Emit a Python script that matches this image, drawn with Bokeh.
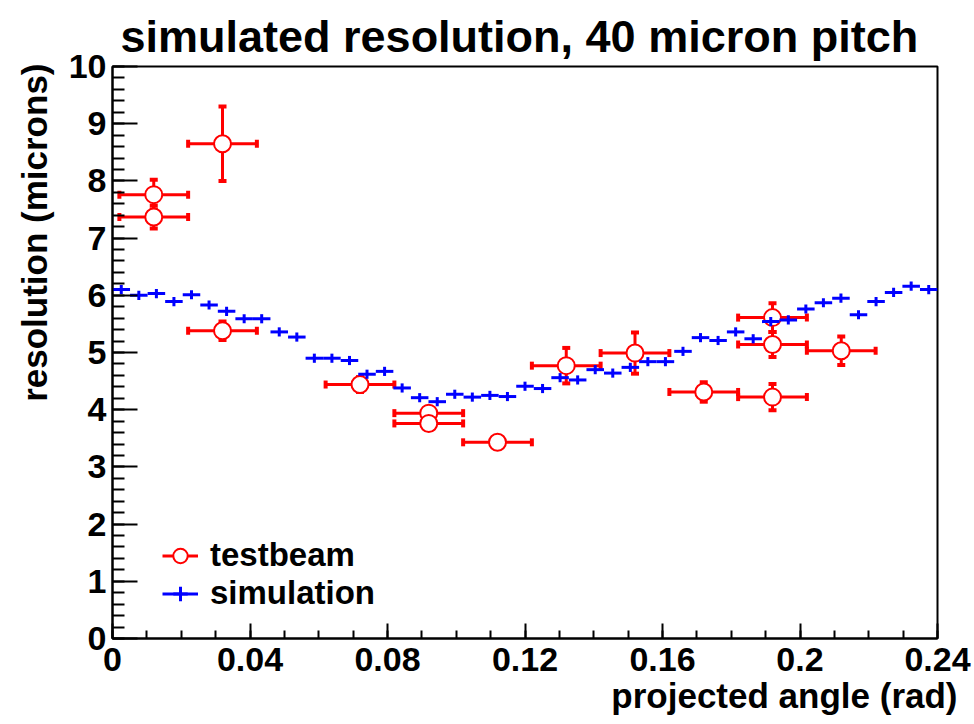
import numpy as np
from math import pi
from bokeh.plotting import figure
from bokeh.models import (Range1d, FixedTicker, CustomJSTickFormatter, Whisker, TeeHead,
                          ColumnDataSource, Legend, LegendItem, Title)
from bokeh.embed import file_html
from bokeh.resources import INLINE

# ---------------- data ----------------
sim_x = [0.00255, 0.00766, 0.01277, 0.01787, 0.02298, 0.02809, 0.03319, 0.03830,
         0.04340, 0.04851, 0.05362, 0.05872, 0.06383, 0.06894, 0.07404, 0.07915,
         0.08426, 0.08936, 0.09447, 0.09957, 0.10468, 0.10979, 0.11489, 0.12000,
         0.12511, 0.13021, 0.13532, 0.14043, 0.14553, 0.15064, 0.15574, 0.16085,
         0.16596, 0.17106, 0.17617, 0.18128, 0.18638, 0.19149, 0.19660, 0.20170,
         0.20681, 0.21191, 0.21702, 0.22213, 0.22723, 0.23234, 0.23745]
sim_y = [6.10, 6.00, 6.03, 5.89, 6.01, 5.83, 5.72, 5.59, 5.59, 5.36,
         5.27, 4.90, 4.90, 4.86, 4.62, 4.67, 4.38, 4.21, 4.14, 4.27,
         4.22, 4.25, 4.23, 4.41, 4.37, 4.56, 4.52, 4.70, 4.64, 4.74,
         4.84, 4.84, 5.02, 5.26, 5.21, 5.36, 5.24, 5.54, 5.57, 5.76,
         5.87, 5.95, 5.66, 5.89, 6.05, 6.16, 6.10]
sim_yerr = [0.08, 0.08, 0.08, 0.08, 0.08, 0.08, 0.08, 0.08, 0.08, 0.08,
            0.08, 0.08, 0.08, 0.08, 0.08, 0.08, 0.08, 0.08, 0.08, 0.08,
            0.08, 0.08, 0.08, 0.08, 0.08, 0.08, 0.08, 0.08, 0.08, 0.08,
            0.08, 0.08, 0.08, 0.08, 0.08, 0.08, 0.08, 0.08, 0.08, 0.08,
            0.08, 0.08, 0.08, 0.08, 0.08, 0.08, 0.08]
sim_half_bin = 0.00255

tb_x = [0.012, 0.012, 0.032, 0.032, 0.072, 0.092, 0.092, 0.112,
        0.132, 0.152, 0.172, 0.192, 0.192, 0.192, 0.212]
tb_y = [7.76, 7.37, 8.65, 5.38, 4.44, 3.94, 3.76, 3.43,
        4.77, 4.99, 4.31, 4.22, 5.14, 5.61, 5.03]
tb_xerr = [0.01, 0.01, 0.01, 0.01, 0.01, 0.01, 0.01, 0.01,
           0.01, 0.01, 0.01, 0.01, 0.01, 0.01, 0.01]
tb_yerr = [0.26, 0.20, 0.65, 0.16, 0.13, 0.10, 0.10, 0.05,
           0.31, 0.36, 0.17, 0.23, 0.22, 0.25, 0.25]

x_ticks = [0, 0.04, 0.08, 0.12, 0.16, 0.2, 0.24]
y_ticks = [0, 1, 2, 3, 4, 5, 6, 7, 8, 9, 10]

title_text = "simulated resolution, 40 micron pitch"
x_title = "projected angle (rad)"
y_title = "resolution (microns)"
labels = ["testbeam", "simulation"]

FONT = "Liberation Sans"
RED = "#ff0000"
BLUE = "#0000ff"

# ---------------- figure ----------------
p = figure(width=974, height=724, x_range=Range1d(0, 0.24), y_range=Range1d(0, 10),
           output_backend="svg", toolbar_location=None,
           min_border_left=112, min_border_right=37, min_border_top=66, min_border_bottom=86)
p.xgrid.visible = False
p.ygrid.visible = False
p.background_fill_color = "white"
p.border_fill_color = "white"
p.outline_line_color = "black"
p.outline_line_width = 2

# title (above)
p.title.text = title_text
p.title.align = "left"
p.title.offset = 8
p.title.standoff = 10
p.title.text_font = FONT
p.title.text_font_style = "bold"
p.title.text_font_size = "45px"
p.title.text_color = "black"

# axes
p.xaxis.ticker = FixedTicker(ticks=x_ticks, minor_ticks=[round(0.01 * k, 2) for k in range(25)])
p.xaxis.formatter = CustomJSTickFormatter(code="return String(Math.round(tick*100)/100);")
p.yaxis.ticker = FixedTicker(ticks=y_ticks, minor_ticks=[round(0.2 * k, 1) for k in range(51)])
for ax in (p.xaxis[0], p.yaxis[0]):
    ax.axis_line_color = "black"
    ax.axis_line_width = 2
    ax.major_tick_line_color = "black"
    ax.major_tick_line_width = 2
    ax.minor_tick_line_color = "black"
    ax.minor_tick_line_width = 2
    ax.major_tick_out = 0
    ax.minor_tick_out = 0
    ax.major_label_text_font = FONT
    ax.major_label_text_font_style = "bold"
    ax.major_label_text_font_size = "34px"
    ax.major_label_text_color = "black"
p.yaxis.major_tick_in = 25
p.yaxis.minor_tick_in = 12
p.xaxis.major_tick_in = 15
p.xaxis.minor_tick_in = 8
p.yaxis.major_label_standoff = 6
p.xaxis.major_label_standoff = 9

# axis titles as side-panel titles (right aligned like the reference)
p.add_layout(Title(text=y_title, align="right", offset=-3, standoff=23, text_font=FONT,
                   text_font_style="bold", text_font_size="35px", text_color="black"), "left")
p.add_layout(Title(text=x_title, align="right", offset=-20, standoff=0, text_font=FONT,
                   text_font_style="bold", text_font_size="35px", text_color="black"), "below")

# ---------------- testbeam ----------------
tb_src = ColumnDataSource(dict(
    x=tb_x, y=tb_y,
    xl=[a - b for a, b in zip(tb_x, tb_xerr)], xu=[a + b for a, b in zip(tb_x, tb_xerr)],
    yl=[a - b for a, b in zip(tb_y, tb_yerr)], yu=[a + b for a, b in zip(tb_y, tb_yerr)],
))


def tee():
    return TeeHead(size=8, line_color=RED, line_width=4)


wx = Whisker(source=tb_src, base="y", lower="xl", upper="xu", dimension="width",
             line_color=RED, line_width=3, lower_head=tee(), upper_head=tee())
wy = Whisker(source=tb_src, base="x", lower="yl", upper="yu", dimension="height",
             line_color=RED, line_width=3, lower_head=tee(), upper_head=tee())
p.add_layout(wx)
p.add_layout(wy)

# legend proxy: zero-length bar in the plot, full width in the legend
tb_leg_bar = p.segment(x0="x", x1="x", y0="y", y1="y", source=tb_src,
                       line_color=RED, line_width=3)
tb_circ = p.scatter(x="x", y="y", source=tb_src, marker="circle", size=17,
                    fill_color="white", line_color=RED, line_width=2)

# ---------------- simulation ----------------
sim_src = ColumnDataSource(dict(
    x=sim_x, y=sim_y, zero=[0] * len(sim_x),
    xl=[a - sim_half_bin for a in sim_x], xu=[a + sim_half_bin for a in sim_x],
    yl=[a - b for a, b in zip(sim_y, sim_yerr)], yu=[a + b for a, b in zip(sim_y, sim_yerr)],
))
sim_h = p.segment(x0="xl", x1="xu", y0="y", y1="y", source=sim_src, line_color=BLUE, line_width=3)
p.segment(x0="x", x1="x", y0="yl", y1="yu", source=sim_src, line_color=BLUE, line_width=3)
# zero-size marker in the plot; drawn at legend size in the legend
sim_leg = p.scatter(x="x", y="y", source=sim_src, marker="cross", size="zero",
                    line_color=BLUE, line_width=3)

# ---------------- legend ----------------
legend = Legend(items=[LegendItem(label=labels[0], renderers=[tb_leg_bar, tb_circ]),
                       LegendItem(label=labels[1], renderers=[sim_h, sim_leg])],
                location=(50, 26), glyph_width=36, glyph_height=37, label_standoff=12,
                spacing=0, padding=0, margin=0, border_line_alpha=0, background_fill_alpha=0,
                label_text_font=FONT, label_text_font_style="bold", label_text_font_size="33px",
                label_text_color="black")
p.add_layout(legend)

open("out.html", "w").write(file_html(p, INLINE))
